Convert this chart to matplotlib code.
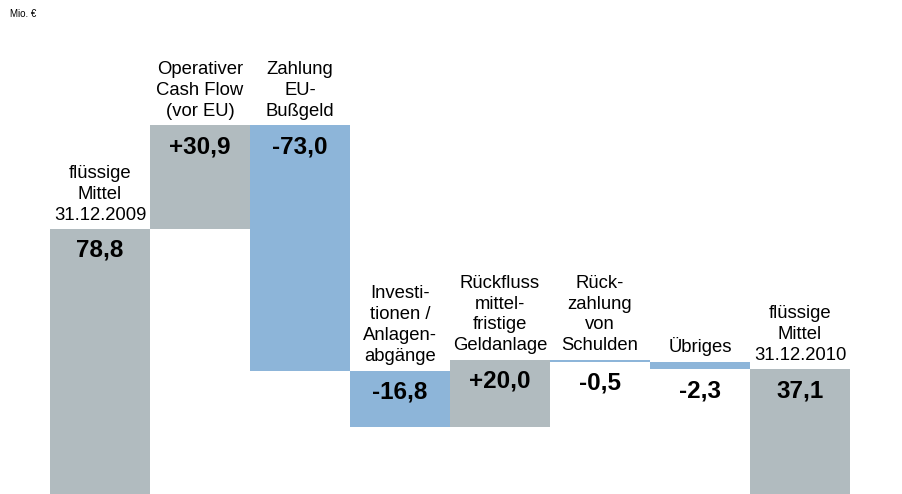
import matplotlib
matplotlib.use("Agg")
import matplotlib.pyplot as plt
import numpy as np

plt.rcParams['font.family'] = ['Liberation Sans', 'DejaVu Sans']

# waterfall data (Mio. EUR)
labels = ["flüssige\nMittel\n31.12.2009",
          "Operativer\nCash Flow\n(vor EU)",
          "Zahlung\nEU-\nBußgeld",
          "Investi-\ntionen /\nAnlagen-\nabgänge",
          "Rückfluss\nmittel-\nfristige\nGeldanlage",
          "Rück-\nzahlung\nvon\nSchulden",
          "Übriges",
          "flüssige\nMittel\n31.12.2010"]
values = [78.8, 30.9, -73.0, -16.8, 20.0, -0.5, -2.3, 37.1]
value_text = ["78,8", "+30,9", "-73,0", "-16,8", "+20,0", "-0,5", "-2,3", "37,1"]
is_total = [True, False, False, False, False, False, False, True]

grey = "#b1bbbf"
blue = "#8db5d9"

fig = plt.figure(figsize=(9.03, 4.94), dpi=100)
ax = fig.add_axes([0, 0, 1, 1])

x = np.arange(len(values))
bottoms = []
heights = []
colors = []
level = 0.0
for v, tot in zip(values, is_total):
    if tot:
        bottoms.append(0.0)
        heights.append(v)
        level = v
        colors.append(grey)
    else:
        new = level + v
        bottoms.append(min(level, new))
        heights.append(abs(v))
        colors.append(grey if v > 0 else blue)
        level = new

ax.bar(x, heights, bottom=bottoms, width=1.0, color=colors, linewidth=0)

for i in range(len(values)):
    top = bottoms[i] + heights[i]
    # category label above bar
    ax.annotate(labels[i], (x[i], top), xytext=(0, 4), textcoords="offset points",
                ha="center", va="bottom", fontsize=13.3, linespacing=1.3)
    # value label inside / below bar
    anchor = top if heights[i] > 5 else bottoms[i]
    ax.annotate(value_text[i], (x[i], anchor), xytext=(0, -7), textcoords="offset points",
                ha="center", va="top", fontsize=17.5, fontweight="bold")

fig.text(10 / 903, 1 - 14 / 494, "Mio. €", fontsize=7, ha="left", va="center")

ax.set_xlim(-1, 8.03)
ax.set_ylim(0, 494 / 3.36)
ax.axis("off")

fig.savefig("out.png", dpi=100)
